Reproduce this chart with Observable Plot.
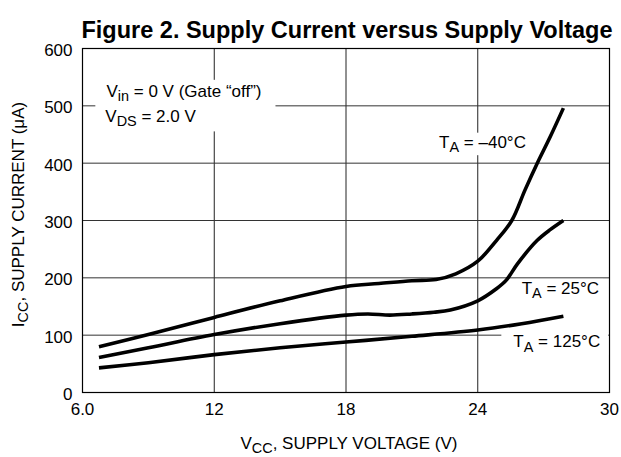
<!DOCTYPE html>
<html>
<head>
<meta charset="utf-8">
<script src="https://cdn.jsdelivr.net/npm/d3@7"></script>
<script src="https://cdn.jsdelivr.net/npm/@observablehq/plot@0.6"></script>
<style>
  body { margin: 0; background: #fff; }
</style>
</head>
<body>
<div id="chart"></div>
<script>
// ---- text ----
const title = "Figure 2. Supply Current versus Supply Voltage";
const xLabel = "V_{CC}, SUPPLY VOLTAGE (V)";
const yLabel = "I_{CC}, SUPPLY CURRENT (μA)";

// ---- ticks ----
const xTicks = [6, 12, 18, 24, 30];
const xTickLabels = ["6.0", "12", "18", "24", "30"];
const yTicks = [0, 100, 200, 300, 400, 500, 600];

// ---- series (V_CC in volts, I_CC in µA) ----
const seriesNames = ["TA = -40°C", "TA = 25°C", "TA = 125°C"];
const vccM40 = [6.75, 9, 12, 15, 18, 19.5, 21, 22.1, 23, 24, 24.85, 25.55, 26.15, 26.7, 27.3, 27.9];
const iccM40 = [80, 101, 131, 160, 185, 190, 195, 197, 207, 229, 265, 300, 353, 399, 446, 496];
const vcc25 = [6.75, 9, 12, 15, 18, 19, 20, 21, 22, 22.75, 24, 24.85, 25.3, 25.8, 26.7, 27.3, 27.9];
const icc25 = [61, 78, 101, 120, 135, 137, 135, 137, 140, 144, 160, 181, 196, 224, 265, 284, 300];
const vcc125 = [6.75, 9, 12, 15, 18, 21, 24, 26, 27.9];
const icc125 = [43, 52, 66, 78, 88, 98, 109, 120, 133];

// ---- annotations ----
const annotText = ["V_{in} = 0 V (Gate “off”)", "V_{DS} = 2.0 V", "T_{A} = –40°C", "T_{A} = 25°C", "T_{A} = 125°C"];
const annotV = [7.09, 7.04, 22.24, 26.0, 25.62];
const annotI = [515.7, 472, 427, 172, 78.7];
const annotGroup = [0, 0, 1, 2, 3];

// ---- build tables ----
const rows = [];
[[vccM40, iccM40], [vcc25, icc25], [vcc125, icc125]].forEach(([vs, is], k) => {
  vs.forEach((v, j) => rows.push({series: seriesNames[k], v, i: is[j]}));
});
const annots = annotText.map((t, k) => ({t, v: annotV[k], i: annotI[k], g: annotGroup[k]}));

const font = "'Liberation Sans', Arial, Helvetica, sans-serif";

const chart = Plot.plot({
  width: 621,
  height: 457,
  marginTop: 48,
  marginBottom: 65,
  marginLeft: 82,
  marginRight: 12,
  style: {fontFamily: font, fontSize: "17px", background: "#fff", color: "#000"},
  x: {domain: [6, 30]},
  y: {domain: [0, 600]},
  marks: [
    Plot.gridX(xTicks, {stroke: "#222", strokeOpacity: 1, strokeWidth: 1}),
    Plot.gridY(yTicks, {stroke: "#333", strokeOpacity: 1, strokeWidth: 1}),
    Plot.axisX(xTicks, {tickSize: 0, tickPadding: 10, label: null,
      tickFormat: d => xTickLabels[xTicks.indexOf(d)]}),
    Plot.axisY(yTicks, {tickSize: 0, tickPadding: 10, label: null, dy: 2}),
    Plot.frame({stroke: "#000", strokeWidth: 1.2}),
    Plot.text(annots, {x: "v", y: "i", text: "t", textAnchor: "start", lineAnchor: "bottom",
      fontSize: 17, fill: "#000"}),
    Plot.line(rows, {x: "v", y: "i", z: "series", stroke: "#000", strokeWidth: 3.6,
      curve: "catmull-rom", strokeLinecap: "butt"}),
    Plot.text([title], {text: d => d, frameAnchor: "top", textAnchor: "middle", lineAnchor: "bottom", dy: -11,
      fontSize: 23.5, fontWeight: "bold", fill: "#000", dx: 1}),
    Plot.text([xLabel], {text: d => d, frameAnchor: "bottom", textAnchor: "middle", lineAnchor: "bottom", dy: 56,
      fontSize: 17, fill: "#000", dx: 3}),
    Plot.text([yLabel], {text: d => d, frameAnchor: "left", textAnchor: "middle", lineAnchor: "middle", rotate: -90,
      dx: -64, dy: -6, fontSize: 17, fill: "#000"})
  ]
});

document.getElementById("chart").appendChild(chart);

// ---- locate annotation texts before rewriting them ----
const allTexts = Array.from(chart.querySelectorAll("text"));
const annotEls = annotText.map(t => allTexts.find(el => el.textContent === t));

// ---- subscripts: turn "_{..}" into lowered tspans ----
const NS = "http://www.w3.org/2000/svg";
allTexts.forEach(el => {
  const s = el.textContent;
  if (!s.includes("_{")) return;
  const parts = s.split(/(_\{[^}]*\})/).filter(p => p);
  el.textContent = "";
  let shifted = false;
  for (const p of parts) {
    const t = document.createElementNS(NS, "tspan");
    if (p.startsWith("_{")) {
      t.textContent = p.slice(2, -1);
      t.setAttribute("font-size", "85%");
      t.setAttribute("dy", "4.5");
      shifted = true;
    } else {
      t.textContent = p;
      if (shifted) { t.setAttribute("dy", "-4.5"); shifted = false; }
    }
    el.appendChild(t);
  }
});

// ---- white boxes behind the annotations ----
const svgRect = chart.getBoundingClientRect();
const boxes = new Map();
annotEls.forEach((el, k) => {
  if (!el) return;
  const r = el.getBoundingClientRect();
  const g = annotGroup[k];
  const b = boxes.get(g) || {x0: Infinity, y0: Infinity, x1: -Infinity, y1: -Infinity};
  b.x0 = Math.min(b.x0, r.left - svgRect.left);
  b.y0 = Math.min(b.y0, r.top - svgRect.top);
  b.x1 = Math.max(b.x1, r.right - svgRect.left);
  b.y1 = Math.max(b.y1, r.bottom - svgRect.top);
  boxes.set(g, b);
});
const pad = {0: [10, 14, 2, 2], 1: [3, 3, 0, 0], 2: [6, 4, 0, 0], 3: [12, 8, 0, 0]};
const annG = annotEls.find(el => el) ? annotEls.find(el => el).parentNode : null;
if (annG) {
  const bg = document.createElementNS(NS, "g");
  boxes.forEach((b, g) => {
    const [pl, pr, pt, pb] = pad[g];
    const r = document.createElementNS(NS, "rect");
    r.setAttribute("x", b.x0 - pl);
    r.setAttribute("y", b.y0 - pt);
    r.setAttribute("width", b.x1 - b.x0 + pl + pr);
    r.setAttribute("height", b.y1 - b.y0 + pt + pb);
    r.setAttribute("fill", "#fff");
    bg.appendChild(r);
  });
  annG.parentNode.insertBefore(bg, annG);
}
</script>
</body>
</html>
